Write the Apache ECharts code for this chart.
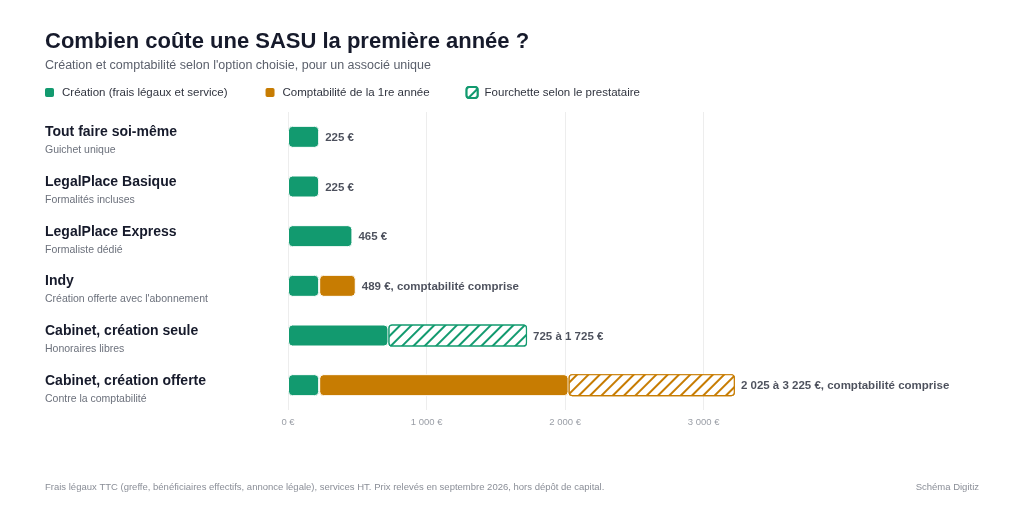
<!DOCTYPE html>
<html lang="fr">
<head>
  <meta charset="utf-8">
  <title>Combien coûte une SASU la première année ?</title>
  <style>
    html, body { margin: 0; padding: 0; background: #fff; }
    #chart { width: 1024px; height: 512px; }
  </style>
</head>
<body>
  <div id="chart"></div>
  <script src="https://cdn.jsdelivr.net/npm/echarts@6/dist/echarts.min.js"></script>
  <script>
    // données
    var categories = ['Tout faire soi-même', 'LegalPlace Basique', 'LegalPlace Express', 'Indy', 'Cabinet, création seule', 'Cabinet, création offerte'];
    var subtitles = ['Guichet unique', 'Formalités incluses', 'Formaliste dédié', "Création offerte avec l'abonnement", 'Honoraires libres', 'Contre la comptabilité'];
    var creation = [225, 225, 465, 225, 725, 225];
    var compta = ['-', '-', '-', 264, '-', 1800];
    var rangeCreation = ['-', '-', '-', '-', 1000, '-'];
    var rangeCompta = ['-', '-', '-', '-', '-', 1200];
    var totals = [225, 225, 465, 489, 1725, 3225];
    var valueLabels = ['225 €', '225 €', '465 €', '489 €, comptabilité comprise', '725 à 1 725 €', '2 025 à 3 225 €, comptabilité comprise'];

    var GREEN = '#129a6f';
    var ORANGE = '#c77c02';
    var FONT = '"Liberation Sans", Arial, sans-serif';

    function euros(v) {
      return String(v).replace(/\B(?=(\d{3})+(?!\d))/g, ' ') + ' €';
    }

    // motif hachuré des fourchettes
    function hatch(color) {
      return {
        symbol: 'rect',
        color: color,
        backgroundColor: '#fff',
        dashArrayX: [1, 0],
        dashArrayY: [1.2, 5.5],
        rotation: -Math.PI / 4
      };
    }

    var chart = echarts.init(document.getElementById('chart'));

    var option = {
      backgroundColor: '#fff',
      textStyle: { fontFamily: FONT },
      title: [{
        text: 'Combien coûte une SASU la première année ?',
        left: 40, top: 26,
        textStyle: { fontSize: 22, fontWeight: 'bold', color: '#161a2b', fontFamily: FONT }
      }, {
        text: "Création et comptabilité selon l'option choisie, pour un associé unique",
        left: 40, top: 54,
        textStyle: { fontSize: 12.5, fontWeight: 'normal', color: '#5a5f6b', fontFamily: FONT }
      }, {
        text: 'Frais légaux TTC (greffe, bénéficiaires effectifs, annonce légale), services HT. Prix relevés en septembre 2026, hors dépôt de capital.',
        left: 40, top: 477,
        textStyle: { fontSize: 9.5, fontWeight: 'normal', color: '#8a8e97', fontFamily: FONT }
      }, {
        text: 'Schéma Digitiz',
        right: 40, top: 477,
        textStyle: { fontSize: 9.5, fontWeight: 'normal', color: '#8a8e97', fontFamily: FONT }
      }],
      legend: {
        left: 38, top: 81,
        icon: 'roundRect',
        itemWidth: 11, itemHeight: 11, itemGap: 36,
        textStyle: { fontSize: 11.5, color: '#30343f', fontFamily: FONT, padding: [0, 0, 0, 2] },
        data: ['Création (frais légaux et service)', 'Comptabilité de la 1re année', 'Fourchette selon le prestataire']
      },
      grid: { left: 288, right: 251, top: 112, bottom: 102, containLabel: false },
      xAxis: {
        type: 'value',
        min: 0, max: 3500, interval: 1000,
        axisLine: { show: false },
        axisTick: { show: false },
        axisLabel: {
          margin: 7, fontSize: 9.5, color: '#9a9ea6',
          formatter: function (v) { return v > 3000 ? '' : euros(v); }
        },
        splitLine: { lineStyle: { color: ['#ededed', '#ededed', '#ededed', '#ededed', 'rgba(0,0,0,0)'], width: 1 } }
      },
      yAxis: {
        type: 'category',
        inverse: true,
        data: categories,
        axisLine: { show: false },
        axisTick: { show: false },
        axisLabel: {
          align: 'left',
          margin: 243,
          padding: [9, 0, 0, 0],
          formatter: function (v, i) { return '{n|' + v + '}\n{s|' + subtitles[i] + '}'; },
          rich: {
            n: { fontSize: 14, fontWeight: 'bold', color: '#161a2b', lineHeight: 18, fontFamily: FONT },
            s: { fontSize: 10.5, color: '#6c717c', lineHeight: 18, fontFamily: FONT }
          }
        }
      },
      series: [{
        name: 'Création (frais légaux et service)',
        type: 'bar', stack: 'cout', barWidth: 22,
        itemStyle: { color: GREEN, borderRadius: 4, borderColor: '#fff', borderWidth: 1 },
        data: creation
      }, {
        name: 'Comptabilité de la 1re année',
        type: 'bar', stack: 'cout', barWidth: 22,
        itemStyle: { color: ORANGE, borderRadius: 4, borderColor: '#fff', borderWidth: 1 },
        data: compta
      }, {
        name: 'Fourchette selon le prestataire',
        type: 'bar', stack: 'cout', barWidth: 20,
        itemStyle: { color: '#fff', borderColor: GREEN, borderWidth: 1.2, borderRadius: 3, decal: hatch(GREEN) },
        data: rangeCreation
      }, {
        name: 'Fourchette selon le prestataire',
        type: 'bar', stack: 'cout', barWidth: 20,
        itemStyle: { color: '#fff', borderColor: ORANGE, borderWidth: 1.2, borderRadius: 3, decal: hatch(ORANGE) },
        data: rangeCompta
      }, {
        name: 'totaux',
        type: 'scatter',
        symbolSize: 0,
        silent: true,
        label: {
          show: true, position: 'right', distance: 6, offset: [0, 1],
          fontSize: 11.5, fontWeight: 'bold', color: '#1f2433', fontFamily: FONT,
          formatter: function (p) { return valueLabels[p.dataIndex]; }
        },
        data: totals.map(function (t, i) { return [t, categories[i]]; })
      }]
    };

    chart.setOption(option);
  </script>
</body>
</html>
